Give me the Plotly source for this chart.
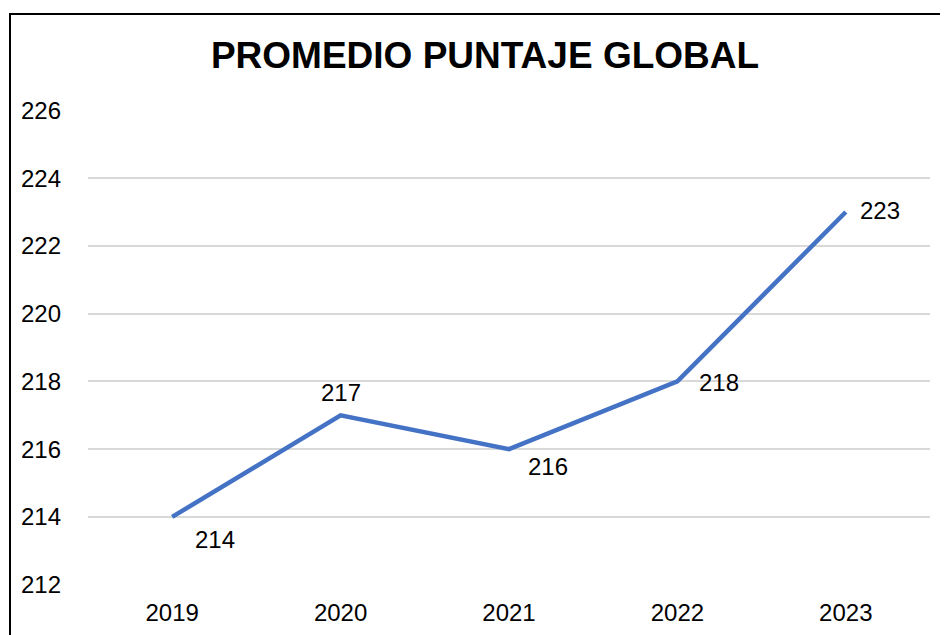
import plotly.graph_objects as go

years = ["2019", "2020", "2021", "2022", "2023"]
scores = [214, 217, 216, 218, 223]
y_ticks = [212, 214, 216, 218, 220, 222, 224, 226]
title_text = "PROMEDIO PUNTAJE GLOBAL"

# label offsets in pixels (style only)
label_offsets = [(43, -23), (0, 23), (39, -17), (42, -1), (34, 1)]

FONT = "Arial, 'Liberation Sans', sans-serif"
OFF = 8  # page body margin
W, H = 948, 635
ML, MT = 88 - OFF, 110 - OFF
MR = W - (930 - OFF)
MB = H - (585 - OFF)

fig = go.Figure()
fig.add_trace(go.Scatter(
    x=years, y=scores, mode="lines",
    line=dict(color="#4472C4", width=4.5),
    hoverinfo="skip", showlegend=False,
))

for i, (yv, (dx, dy)) in enumerate(zip(scores, label_offsets)):
    fig.add_annotation(x=i, y=yv, xref="x", yref="y", text=str(yv), showarrow=False,
                       xshift=dx, yshift=dy,
                       font=dict(family=FONT, size=24, color="#000000"))

pw = W - ML - MR
ph = H - MT - MB
fig.add_shape(type="rect", xref="paper", yref="paper",
              x0=(10 - OFF - ML) / pw, x1=(W + 20 - ML) / pw,
              y0=-(H + 20 - MT - ph) / ph, y1=1 + (MT - (14 - OFF)) / ph,
              line=dict(color="#000000", width=2), fillcolor="rgba(0,0,0,0)",
              layer="above")

fig.update_layout(
    width=W, height=H,
    margin=dict(l=ML, r=MR, t=MT, b=MB),
    paper_bgcolor="white", plot_bgcolor="white",
    title=dict(text="<b>" + title_text + "</b>", x=(485 - OFF) / W, xanchor="center",
               y=1 - (55 - OFF) / H, yanchor="middle",
               font=dict(family=FONT, size=37, color="#000000")),
    xaxis=dict(type="category", range=[-0.5, 4.5], showgrid=False, zeroline=False,
               showline=False, ticks="", tickfont=dict(family=FONT, size=24, color="#000000"),
               ticklabelstandoff=11),
    yaxis=dict(range=[211.99, 226.01], tickvals=y_ticks, showgrid=True, gridcolor="#D9D9D9",
               gridwidth=1.5, zeroline=False, showline=False, ticks="",
               tickfont=dict(family=FONT, size=24, color="#000000"),
               ticklabelstandoff=26),
)

fig.write_html("out.html")
